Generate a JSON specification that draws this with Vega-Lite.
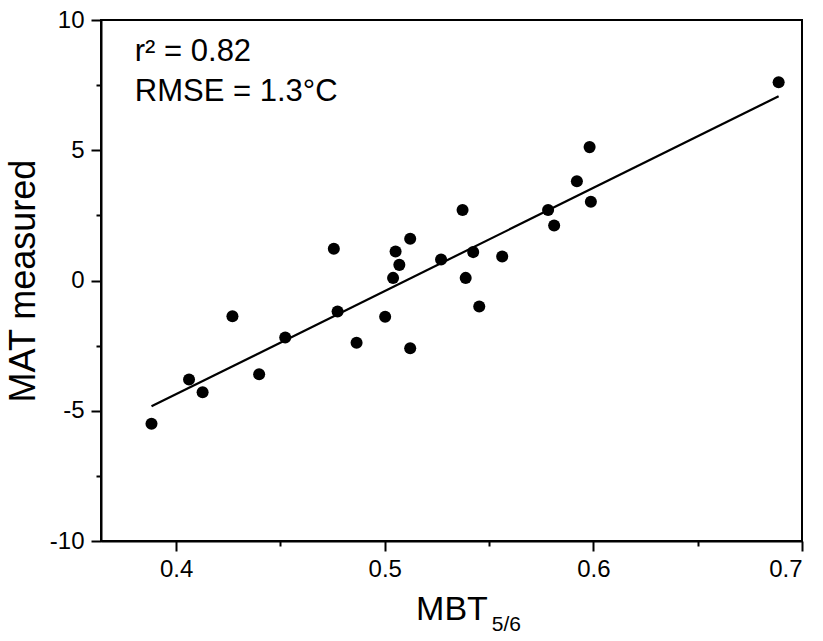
{
  "$schema": "https://vega.github.io/schema/vega-lite/v6.json",
  "autosize": "none",
  "width": 701,
  "height": 521,
  "padding": {"left": 101, "top": 20, "right": 21, "bottom": 100},
  "background": "white",
  "config": {
    "view": {"stroke": "black", "strokeWidth": 2},
    "font": "Liberation Sans",
    "axis": {"grid": false}
  },
  "data": {
    "values": [
      {"mbt": 0.3882, "mat": -5.50},
      {"mbt": 0.4062, "mat": -3.80},
      {"mbt": 0.4127, "mat": -4.29},
      {"mbt": 0.4270, "mat": -1.37},
      {"mbt": 0.4398, "mat": -3.60},
      {"mbt": 0.4523, "mat": -2.19},
      {"mbt": 0.4756, "mat": 1.22},
      {"mbt": 0.4774, "mat": -1.19},
      {"mbt": 0.4865, "mat": -2.39},
      {"mbt": 0.5002, "mat": -1.39},
      {"mbt": 0.5040, "mat": 0.10},
      {"mbt": 0.5052, "mat": 1.11},
      {"mbt": 0.5070, "mat": 0.60},
      {"mbt": 0.5122, "mat": 1.60},
      {"mbt": 0.5122, "mat": -2.60},
      {"mbt": 0.5270, "mat": 0.81},
      {"mbt": 0.5373, "mat": 2.71},
      {"mbt": 0.5388, "mat": 0.10},
      {"mbt": 0.5424, "mat": 1.09},
      {"mbt": 0.5453, "mat": -1.00},
      {"mbt": 0.5563, "mat": 0.92},
      {"mbt": 0.5783, "mat": 2.71},
      {"mbt": 0.5812, "mat": 2.11},
      {"mbt": 0.5921, "mat": 3.81},
      {"mbt": 0.5982, "mat": 5.12},
      {"mbt": 0.5988, "mat": 3.02},
      {"mbt": 0.6888, "mat": 7.61}
    ]
  },
  "layer": [
    {
      "mark": {"type": "circle", "size": 145, "color": "black", "opacity": 1},
      "encoding": {
        "x": {
          "field": "mbt", "type": "quantitative",
          "scale": {"domain": [0.364, 0.7], "nice": false, "zero": false},
          "axis": {
            "orient": "bottom",
            "title": "MBT",
            "values": [0.4, 0.45, 0.5, 0.55, 0.6, 0.65, 0.7],
            "labelExpr": "abs(round(datum.value * 10) - datum.value * 10) < 0.001 ? format(datum.value, '.1f') : ''",
            "labelFontSize": 24, "labelColor": "black", "labelPadding": 6,
            "titleFontSize": 34, "titleFontWeight": "normal", "titleColor": "black", "titlePadding": 11,
            "domainColor": "black", "domainWidth": 2,
            "tickColor": "black", "tickWidth": 2,
            "tickSize": {"condition": {"test": "abs(round(datum.value * 10) - datum.value * 10) < 0.001", "value": 10}, "value": 5}
          }
        },
        "y": {
          "field": "mat", "type": "quantitative",
          "scale": {"domain": [-10, 10], "nice": false, "zero": false},
          "axis": {
            "orient": "left",
            "title": "MAT measured",
            "values": [-10, -7.5, -5, -2.5, 0, 2.5, 5, 7.5, 10],
            "labelExpr": "datum.value % 5 == 0 ? '' + datum.value : ''",
            "labelFontSize": 24, "labelColor": "black", "labelPadding": 7,
            "titleFontSize": 36, "titleFontWeight": "normal", "titleColor": "black", "titlePadding": 7,
            "domainColor": "black", "domainWidth": 2,
            "tickColor": "black", "tickWidth": 2,
            "tickSize": {"condition": {"test": "datum.value % 5 == 0", "value": 10}, "value": 5}
          }
        }
      }
    },
    {
      "data": {"values": [{"mbt": 0.3882, "mat": -4.83}, {"mbt": 0.6888, "mat": 7.07}]},
      "mark": {"type": "line", "color": "black", "strokeWidth": 2.2},
      "encoding": {
        "x": {"field": "mbt", "type": "quantitative"},
        "y": {"field": "mat", "type": "quantitative"}
      }
    },
    {
      "data": {"values": [{}]},
      "mark": {
        "type": "text",
        "text": ["r² = 0.82", "RMSE = 1.3°C"],
        "align": "left", "baseline": "alphabetic",
        "fontSize": 31, "lineHeight": 40, "color": "black"
      },
      "encoding": {
        "x": {"datum": 0.3802, "type": "quantitative"},
        "y": {"datum": 8.41, "type": "quantitative"}
      }
    },
    {
      "data": {"values": [{}]},
      "mark": {
        "type": "text",
        "text": "5/6",
        "align": "left", "baseline": "alphabetic",
        "fontSize": 21, "color": "black"
      },
      "encoding": {
        "x": {"datum": 0.5513, "type": "quantitative"},
        "y": {"datum": -13.46, "type": "quantitative"}
      }
    }
  ]
}
